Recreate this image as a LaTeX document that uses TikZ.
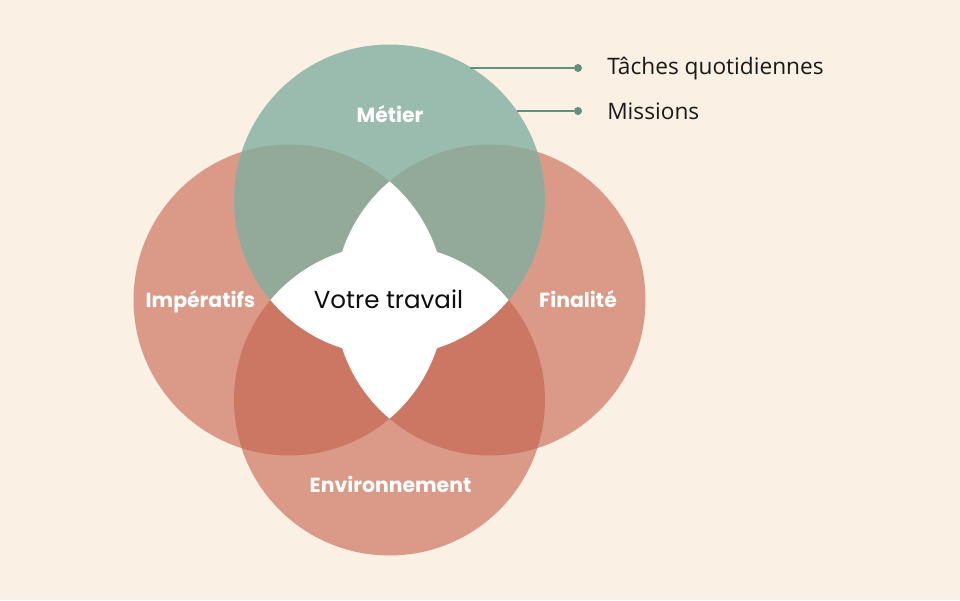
\documentclass[tikz,border=0pt]{standalone}
\usepackage{fontspec}
\setmainfont{Poppins}
\newfontfamily\sidefont{Open Sans}
\definecolor{bg}{HTML}{FAF0E4}
\definecolor{salmonA}{HTML}{DA9A87}
\definecolor{salmonB}{HTML}{CC7763}
\definecolor{greenA}{HTML}{9ABCAE}
\definecolor{greenB}{HTML}{93AA9A}
\definecolor{linecol}{HTML}{5F917F}
\tikzset{
  lbl/.style={anchor=base, inner sep=0pt, text=white, font=\fontsize{15.3pt}{18pt}\selectfont\bfseries},
  ctr/.style={anchor=base, inner sep=0pt, text=black!95, font=\fontsize{18.4pt}{22pt}\selectfont},
  side/.style={anchor=base west, inner sep=0pt, text=black!90, font=\sidefont\fontsize{17pt}{20pt}\selectfont},
  dotnode/.style={circle, fill=linecol, inner sep=0pt, minimum size=6pt},
  conn/.style={draw=linecol, line width=1.4pt},
  rad/.style={radius=116.6pt}
}
\begin{document}
\begin{tikzpicture}[x=0.75pt,y=-0.75pt]
\fill[bg] (0,0) rectangle (960,600);
\useasboundingbox (0,0) rectangle (960,600);
\coordinate (T) at (389.5,200);
\coordinate (L) at (289,300);
\coordinate (Rr) at (490,300);
\coordinate (B) at (389.5,400);
% salmon circles
\fill[salmonA] (L) circle[rad] (Rr) circle[rad] (B) circle[rad];
\begin{scope}
  \clip (B) circle[rad];
  \fill[salmonB] (L) circle[rad] (Rr) circle[rad];
\end{scope}
% green circle
\fill[greenA] (T) circle[rad];
\begin{scope}
  \clip (T) circle[rad];
  \fill[greenB] (L) circle[rad] (Rr) circle[rad];
\end{scope}
% white centre (points in at least three circles)
\begin{scope}
  \clip (T) circle[rad];
  \clip (L) circle[rad];
  \fill[white] (Rr) circle[rad] (B) circle[rad];
\end{scope}
\begin{scope}
  \clip (Rr) circle[rad];
  \clip (B) circle[rad];
  \fill[white] (T) circle[rad] (L) circle[rad];
\end{scope}
% labels
\node[lbl] (metier) at (390,122) {Métier};
\node[lbl] (imp) at (200.5,307) {Impératifs};
\node[lbl] (fin) at (578,307) {Finalité};
\node[lbl] (env) at (390.5,492) {Environnement};
\node[ctr] (votre) at (388.5,308) {Votre travail};
% connectors
\coordinate (p1) at (470,68);
\coordinate (p2) at (516.5,111);
\node[dotnode] (d1) at (578,68) {};
\node[dotnode] (d2) at (578,111) {};
\draw[conn] (p1) -- (d1);
\draw[conn] (p2) -- (d2);
\node[side] (t1) at (607,74) {Tâches quotidiennes};
\node[side] (t2) at (607,119) {Missions};
\end{tikzpicture}
\end{document}
